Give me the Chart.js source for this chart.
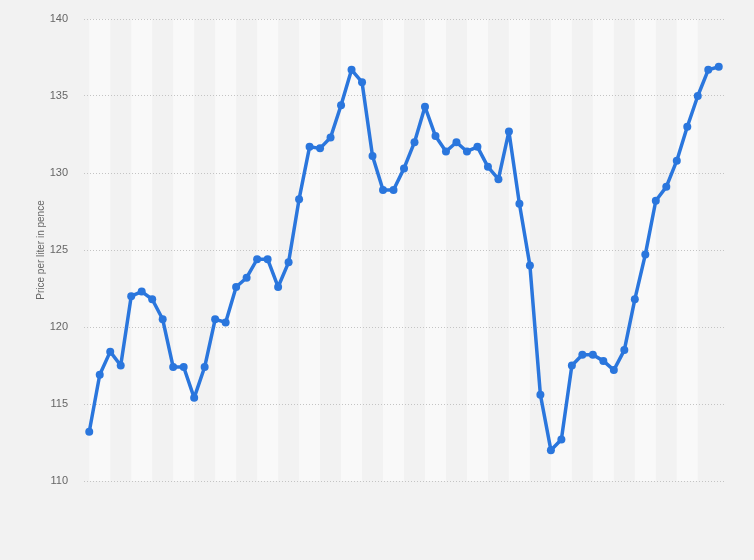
<!DOCTYPE html>
<html>
<head>
<meta charset="utf-8">
<script src="https://cdn.jsdelivr.net/npm/chart.js@4.4.0/dist/chart.umd.min.js"></script>
<style>
  html, body { margin: 0; padding: 0; background: #f2f2f2; }
  #wrap { width: 754px; height: 560px; }
</style>
</head>
<body>
<div id="wrap"><canvas id="priceChart" width="754" height="560"></canvas></div>
<script>
// Data (price per liter, pence)
const periods = ['1','2','3','4','5','6','7','8','9','10','11','12','13','14','15','16','17','18','19','20',
  '21','22','23','24','25','26','27','28','29','30','31','32','33','34','35','36','37','38','39','40',
  '41','42','43','44','45','46','47','48','49','50','51','52','53','54','55','56','57','58','59','60','61'];
const prices = [113.2, 116.9, 118.4, 117.5, 122.0, 122.3, 121.8, 120.5, 117.4, 117.4,
  115.4, 117.4, 120.5, 120.3, 122.6, 123.2, 124.4, 124.4, 122.6, 124.2,
  128.3, 131.7, 131.6, 132.3, 134.4, 136.7, 135.9, 131.1, 128.9, 128.9,
  130.3, 132.0, 134.3, 132.4, 131.4, 132.0, 131.4, 131.7, 130.4, 129.6,
  132.7, 128.0, 124.0, 115.6, 112.0, 112.7, 117.5, 118.2, 118.2, 117.8,
  117.2, 118.5, 121.8, 124.7, 128.2, 129.1, 130.8, 133.0, 135.0, 136.7, 136.9];
const yTicks = [110, 115, 120, 125, 130, 135, 140];

const lineBlue = '#2a76dd';

// alternating column bands, two periods wide, starting at the first point
const bandPlugin = {
  id: 'bands',
  beforeDraw(chart) {
    const { ctx, chartArea, scales } = chart;
    ctx.save();
    ctx.fillStyle = '#f9f9f9';
    for (let i = 0; i + 2 < periods.length; i += 4) {
      const x0 = scales.x.getPixelForValue(i);
      const x1 = scales.x.getPixelForValue(i + 2);
      ctx.fillRect(x0, chartArea.top, x1 - x0, chartArea.bottom - chartArea.top);
    }
    ctx.restore();
  }
};

new Chart(document.getElementById('priceChart'), {
  type: 'line',
  data: {
    labels: periods,
    datasets: [{
      label: 'Price',
      data: prices,
      borderColor: lineBlue,
      backgroundColor: lineBlue,
      borderWidth: 3.5,
      borderJoinStyle: 'round',
      borderCapStyle: 'round',
      tension: 0,
      pointRadius: 4,
      pointBorderWidth: 0,
      pointBackgroundColor: lineBlue
    }]
  },
  options: {
    responsive: false,
    animation: false,
    layout: { padding: { top: 19, right: 30, bottom: 79, left: 0 } },
    plugins: { legend: { display: false }, tooltip: { enabled: false } },
    scales: {
      x: {
        display: false,
        offset: true
      },
      y: {
        min: 110,
        max: 140,
        afterFit(scale) { scale.width = 84; scale.paddingTop = 0; scale.paddingBottom = 0; },
        afterBuildTicks(scale) { scale.ticks = yTicks.map(v => ({ value: v })); },
        border: { display: false, dash: [1, 2] },
        grid: { color: '#c4c4c4', drawTicks: false, lineWidth: 1 },
        ticks: {
          padding: 16,
          color: '#666666',
          font: { family: 'Liberation Sans, Arial, sans-serif', size: 11 }
        },
        title: {
          display: true,
          text: 'Price per liter in pence',
          color: '#666666',
          padding: { top: 35, bottom: 0 },
          font: { family: 'Liberation Sans, Arial, sans-serif', size: 10 }
        }
      }
    }
  },
  plugins: [bandPlugin]
});
</script>
</body>
</html>
